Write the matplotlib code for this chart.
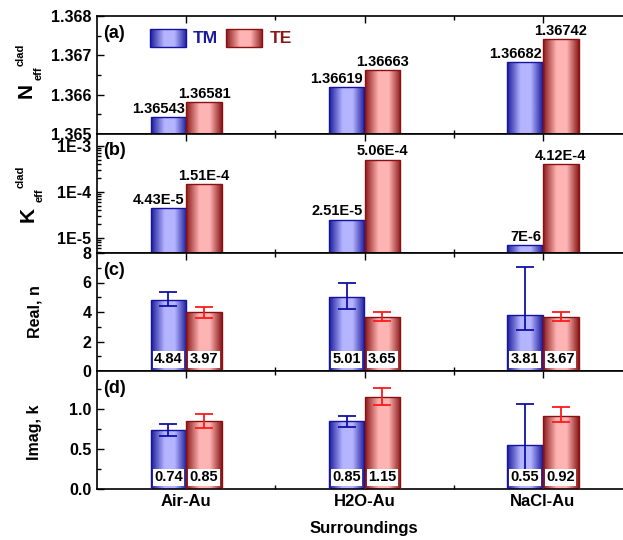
import numpy as np
import matplotlib
matplotlib.use("Agg")
import matplotlib.pyplot as plt
from matplotlib.colors import LinearSegmentedColormap
from matplotlib.patches import Rectangle
from matplotlib.transforms import blended_transform_factory
from matplotlib.ticker import MultipleLocator, LogLocator, NullFormatter, FormatStrFormatter

# ---------------- data ----------------
categories = ["Air-Au", "H2O-Au", "NaCl-Au"]

neff_tm = [1.36543, 1.36619, 1.36682]
neff_te = [1.36581, 1.36663, 1.36742]
neff_tm_labels = ["1.36543", "1.36619", "1.36682"]
neff_te_labels = ["1.36581", "1.36663", "1.36742"]

keff_tm = [4.43e-5, 2.51e-5, 7e-6]
keff_te = [1.51e-4, 5.06e-4, 4.12e-4]
keff_tm_labels = ["4.43E-5", "2.51E-5", "7E-6"]
keff_te_labels = ["1.51E-4", "5.06E-4", "4.12E-4"]

real_tm = [4.84, 5.01, 3.81]
real_tm_err_lo = [0.46, 0.84, 1.05]
real_tm_err_hi = [0.50, 0.97, 3.27]
real_te = [3.97, 3.65, 3.67]
real_te_err_lo = [0.36, 0.27, 0.26]
real_te_err_hi = [0.35, 0.34, 0.32]

imag_tm = [0.74, 0.85, 0.55]
imag_tm_err_lo = [0.07, 0.075, 0.35]
imag_tm_err_hi = [0.08, 0.07, 0.51]
imag_te = [0.85, 1.15, 0.92]
imag_te_err_lo = [0.08, 0.10, 0.085]
imag_te_err_hi = [0.094, 0.12, 0.11]

y_ticks_b = [1e-5, 1e-4, 1e-3]
y_ticklabels_b = ["1E-5", "1E-4", "1E-3"]

# ---------------- style ----------------
plt.rcParams["font.family"] = ["Liberation Sans", "DejaVu Sans"]
plt.rcParams["font.weight"] = "bold"
plt.rcParams["axes.labelweight"] = "bold"

TM_DARK, TM_LIGHT, TM_EDGE = "#1a1a9c", "#b4b4ff", "#1414a0"
TE_DARK, TE_LIGHT, TE_EDGE = "#8a1818", "#ffb4b4", "#8c1010"
TM_ERR, TE_ERR = "#1010a8", "#ff1a1a"

def make_cmap(dark, light):
    return LinearSegmentedColormap.from_list(
        "g", [(0.0, dark), (0.38, light), (0.66, light), (1.0, dark)])

cm_tm = make_cmap(TM_DARK, TM_LIGHT)
cm_te = make_cmap(TE_DARK, TE_LIGHT)
GRAD = np.linspace(0, 1, 256)[None, :]

W, H = 623, 540
fig = plt.figure(figsize=(W / 100, H / 100), dpi=100)

def px(x, y):
    return x / W, 1 - y / H

left = 97 / W
width = 535 / W
panels_px = [(16, 134), (134, 253), (253, 371), (371, 489)]
axes = []
for top, bot in panels_px:
    axes.append(fig.add_axes([left, 1 - bot / H, width, (bot - top) / H]))
ax_a, ax_b, ax_c, ax_d = axes

x = np.arange(1, len(categories) + 1)
bw = 0.2
x_tm = x - bw / 2
x_te = x + bw / 2

def grad_bars(ax, xs, vals, base, cmap, edge):
    bars = ax.bar(xs, np.asarray(vals) - base, bw, bottom=base,
                  facecolor="none", edgecolor=edge, linewidth=1.0, zorder=3)
    # x in (linear) data units, y in axes units: a purely affine transform
    trans = blended_transform_factory(ax.transLimits + ax.transAxes, ax.transAxes)
    for r in bars:
        x0 = r.get_x()
        im = ax.imshow(GRAD, extent=[x0, x0 + r.get_width(), 0, 1], transform=trans,
                       aspect="auto", cmap=cmap, origin="lower", zorder=2,
                       interpolation="bilinear")
        im.set_clip_path(r)
    return bars

def style_axis(ax):
    ax.set_axisbelow(True)
    for s in ax.spines.values():
        s.set_linewidth(1.2)
    ax.set_xticks(x)
    ax.set_xticks([1.5, 2.5], minor=True)
    ax.tick_params(which="both", direction="in", top=True, right=False,
                   labelsize=11.5, width=1.0, pad=4)
    ax.tick_params(which="major", length=5)
    ax.tick_params(which="minor", length=3)
    ax.tick_params(axis="x", labelbottom=False)

# ---------- (a) ----------
ylim_a = (1.365, 1.368)
ax_a.set_xlim(0.5, 3.5)
ax_a.set_ylim(*ylim_a)
grad_bars(ax_a, x_tm, neff_tm, ylim_a[0], cm_tm, TM_EDGE)
grad_bars(ax_a, x_te, neff_te, ylim_a[0], cm_te, TE_EDGE)
for xi, v, lab in zip(x_tm, neff_tm, neff_tm_labels):
    ax_a.annotate(lab, xy=(xi + bw / 2, v), xytext=(-1, 3), textcoords="offset points",
                  ha="right", va="baseline", fontsize=10.5, fontweight="bold")
for xi, v, lab in zip(x_te, neff_te, neff_te_labels):
    ax_a.annotate(lab, xy=(xi, v), xytext=(0, 3), textcoords="offset points",
                  ha="center", va="baseline", fontsize=10.5, fontweight="bold")
style_axis(ax_a)
ax_a.yaxis.set_major_locator(MultipleLocator(0.001))
ax_a.yaxis.set_minor_locator(MultipleLocator(0.0005))
ax_a.yaxis.set_major_formatter(FormatStrFormatter("%.3f"))

# legend (drawn in axes coordinates)
for x0, cmap, edge, label, tcol, tx in [
        (0.0991, cm_tm, TM_EDGE, "TM", TM_DARK, 0.1794),
        (0.2411, cm_te, TE_EDGE, "TE", TE_DARK, 0.3234)]:
    y0, w, h = 0.735, 0.0673, 0.1525
    rect = Rectangle((x0, y0), w, h, transform=ax_a.transAxes, fc="none",
                     ec=edge, lw=1.0, zorder=6)
    ax_a.add_patch(rect)
    im = ax_a.imshow(GRAD, extent=[x0, x0 + w, y0, y0 + h], transform=ax_a.transAxes,
                     aspect="auto", cmap=cmap, zorder=5, interpolation="bilinear")
    im.set_clip_path(rect)
    ax_a.text(tx, y0 + h / 2, label, transform=ax_a.transAxes, color=tcol,
              fontsize=12.5, fontweight="bold", ha="left", va="center")
ax_a.set_xlim(0.5, 3.5)
ax_a.set_ylim(*ylim_a)

# ---------- (b) ----------
ylim_b = (4.72e-6, 1.82e-3)
ax_b.set_yscale("log")
ax_b.set_xlim(0.5, 3.5)
ax_b.set_ylim(*ylim_b)
grad_bars(ax_b, x_tm, keff_tm, ylim_b[0], cm_tm, TM_EDGE)
grad_bars(ax_b, x_te, keff_te, ylim_b[0], cm_te, TE_EDGE)
for xi, v, lab in zip(x_tm, keff_tm, keff_tm_labels):
    ax_b.annotate(lab, xy=(xi + bw / 2, v), xytext=(-1, 3), textcoords="offset points",
                  ha="right", va="baseline", fontsize=10.5, fontweight="bold")
for xi, v, lab in zip(x_te, keff_te, keff_te_labels):
    ax_b.annotate(lab, xy=(xi, v), xytext=(0, 3), textcoords="offset points",
                  ha="center", va="baseline", fontsize=10.5, fontweight="bold")
style_axis(ax_b)
ax_b.set_yticks(y_ticks_b)
ax_b.set_yticklabels(y_ticklabels_b)
ax_b.yaxis.set_minor_locator(LogLocator(base=10, subs=np.arange(2, 10)))
ax_b.yaxis.set_minor_formatter(NullFormatter())
ax_b.set_xlim(0.5, 3.5)
ax_b.set_ylim(*ylim_b)
ax_b.get_yticklabels()[-1].set_bbox(dict(boxstyle="square,pad=0.0", fc="white", ec="none"))

# ---------- (c), (d) ----------
def lower_panel(ax, tm, te, tm_lo, tm_hi, te_lo, te_hi, ylim, major, minor, fmt):
    ax.set_xlim(0.5, 3.5)
    ax.set_ylim(*ylim)
    grad_bars(ax, x_tm, tm, 0, cm_tm, TM_EDGE)
    grad_bars(ax, x_te, te, 0, cm_te, TE_EDGE)
    ax.errorbar(x_tm, tm, yerr=[tm_lo, tm_hi], fmt="none", ecolor=TM_ERR,
                elinewidth=1.3, capsize=6.5, capthick=1.3, zorder=4)
    ax.errorbar(x_te, te, yerr=[te_lo, te_hi], fmt="none", ecolor=TE_ERR,
                elinewidth=1.3, capsize=6.5, capthick=1.3, zorder=4)
    for xs, vals in [(x_tm, tm), (x_te, te)]:
        for xi, v in zip(xs, vals):
            ax.annotate(f"{v:.2f}", xy=(xi, 0), xytext=(0, 3.5), textcoords="offset points",
                        ha="center", va="bottom", fontsize=10.5, fontweight="bold",
                        bbox=dict(boxstyle="square,pad=0.1", fc="white", ec="none"),
                        zorder=6)
    style_axis(ax)
    ax.yaxis.set_major_locator(MultipleLocator(major))
    ax.yaxis.set_minor_locator(MultipleLocator(minor))
    ax.yaxis.set_major_formatter(FormatStrFormatter(fmt))
    ax.set_xlim(0.5, 3.5)
    ax.set_ylim(*ylim)

lower_panel(ax_c, real_tm, real_te, real_tm_err_lo, real_tm_err_hi,
            real_te_err_lo, real_te_err_hi, (0, 8), 2, 1, "%d")
lower_panel(ax_d, imag_tm, imag_te, imag_tm_err_lo, imag_tm_err_hi,
            imag_te_err_lo, imag_te_err_hi, (0, 1.48), 0.5, 0.25, "%.1f")
ax_d.tick_params(axis="x", labelbottom=True, labelsize=12, pad=3.5)
ax_d.set_xticklabels(categories)

# panel letters
for ax, lt, yy in [(ax_a, "(a)", 0.85), (ax_b, "(b)", 0.86),
                   (ax_c, "(c)", 0.855), (ax_d, "(d)", 0.855)]:
    ax.text(0.011, yy, lt, transform=ax.transAxes, fontsize=13,
            fontweight="bold", ha="left", va="center")

# y labels
fig.text(*px(26.5, 90), "N", rotation=90, fontsize=15, fontweight="bold", ha="center", va="center")
fig.text(*px(38.5, 73), "eff", rotation=90, fontsize=8, fontweight="bold", ha="center", va="center")
fig.text(*px(20.5, 55), "clad", rotation=90, fontsize=8, fontweight="bold", ha="center", va="center")
fig.text(*px(28.5, 214.5), "K", rotation=90, fontsize=15, fontweight="bold", ha="center", va="center")
fig.text(*px(39.5, 195.5), "eff", rotation=90, fontsize=8, fontweight="bold", ha="center", va="center")
fig.text(*px(20.5, 176.5), "clad", rotation=90, fontsize=8, fontweight="bold", ha="center", va="center")
fig.text(*px(35, 312), "Real, n", rotation=90, fontsize=11.5, fontweight="bold", ha="center", va="center")
fig.text(*px(35, 432), "Imag, k", rotation=90, fontsize=11.5, fontweight="bold", ha="center", va="center")
fig.text(*px(364, 528), "Surroundings", fontsize=12, fontweight="bold", ha="center", va="center")

fig.savefig("out.png", dpi=100)
